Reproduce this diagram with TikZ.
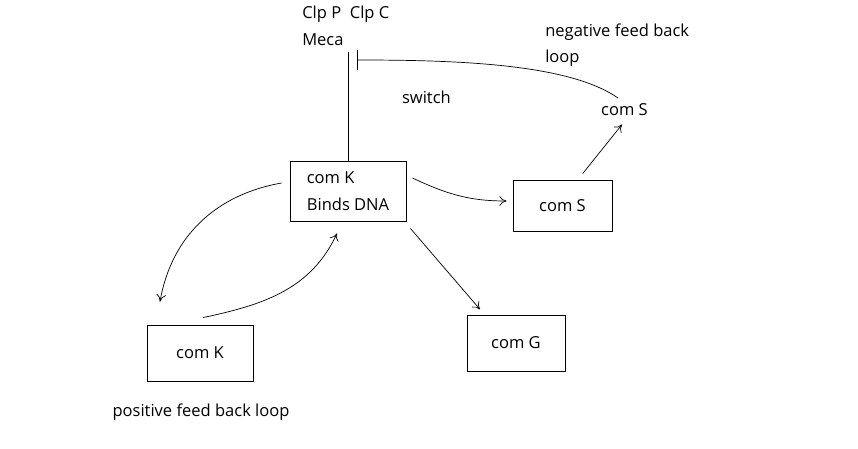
\documentclass[tikz,border=0pt]{standalone}
\usepackage{fontspec}
\setmainfont{Open Sans}
\usetikzlibrary{arrows.meta, positioning}

\begin{document}
\begin{tikzpicture}[
    font=\fontsize{11.75}{19}\selectfont,
    box/.style={
        rectangle,
        draw,
        line width=0.6pt,
        align=left
    },
    txt/.style={inner sep=0pt, align=left},
    arrow/.style={-{To[length=1.8mm, width=2.4mm]}, line width=0.5pt},
    inhibit/.style={-{Bar[width=5mm]}, line width=0.5pt}
]

\useasboundingbox (0,0) rectangle (21.45,-11.2);

% Boxes
\node[box, minimum width=2.9cm, minimum height=1.5cm] (comK) at (8.7,-4.775) {com K\\Binds DNA};
\node[box, minimum width=2.475cm, minimum height=1.275cm] (comS) at (14.0625,-5.1375) {com S};
\node[box, minimum width=2.45cm, minimum height=1.4cm] (comG) at (12.9,-8.575) {com G};
\node[box, minimum width=2.65cm, minimum height=1.4cm] (comKb) at (5.0,-8.825) {com K};

% Text labels
\node[txt, anchor=north west] (clp) at (7.55,-0.15) {Clp P\ \ Clp C\\Meca};
\node[txt, anchor=base] (switch) at (10.66,-2.58) {switch};
\node[txt, anchor=north west] (negloop) at (13.625,-0.58) {negative feed back\\loop};
\node[anchor=base] (comSlab) at (15.6125,-2.875) {com S};
\node[txt, anchor=base] (posloop) at (5.025,-10.4) {positive feed back loop};

% Switch line and negative feed back
\coordinate (swtop) at (8.7,-1.3);
\coordinate (swbar) at (8.925,-1.5);
\draw[line width=0.5pt] (comK.north) -- (swtop);
\draw[inhibit] ([xshift=-0.16cm]comSlab.north) to[out=145, in=0, out distance=1.5cm, in distance=2.5cm] (swbar);

% Arrows
\draw[arrow] ([shift={(0.15,0.325)}]comK.east) to[out=-25, in=180] ([shift={(-0.15,0.1125)}]comS.west);
\draw[arrow] ([shift={(0.1,-0.175)}]comK.south east) -- ([shift={(-0.9,0.13)}]comG.north);
\draw[arrow] ([shift={(0.505,0.15)}]comS.north) -- ([shift={(-0.0625,-0.11)}]comSlab.south);

% Positive feed back
\draw[arrow] ([shift={(-0.2,0.2)}]comK.west) to[out=190, in=80] ([shift={(-1.0,0.575)}]comKb.north);
\draw[arrow] ([shift={(0.075,0.175)}]comKb.north) to[out=12, in=245] ([shift={(-0.275,-0.3)}]comK.south);

\end{tikzpicture}
\end{document}
